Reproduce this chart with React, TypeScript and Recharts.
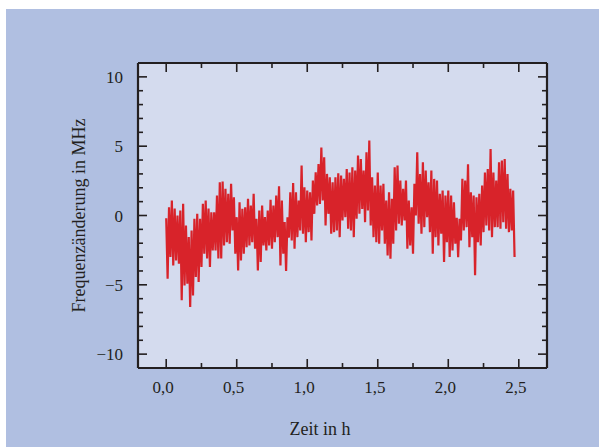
import { LineChart, Line, XAxis, YAxis, CartesianGrid } from "recharts";

// upper swing of the trace, read every 0.02 h starting at 0,0
const hiValues = [
  -0.2, 0.6, 1.08, 0.5, 0.0, 0.36, 0.84, -0.72, -1.56, -1.08, -0.24, 0.12, -0.24, 0.84, 1.08, 0.5,
  0.24, 0.24, 1.44, 2.4, 2.45, 1.92, 1.56, 2.28, 1.32, -0.12, 0.96, 0.48, 0.6, 1.2, 0.72,
  1.56, -0.24, 0.36, 0.72, -0.12, 0.36, 1.13, 0.72, 1.44, 2.1, 1.08, -0.48, -0.12, 1.68, 2.35, 1.68,
  1.08, 3.6, 2.04, 1.8, 1.68, 2.52, 3.12, 3.72, 4.9, 4.2, 3.0, 2.76, 2.4, 2.76, 3.05, 2.88,
  2.64, 3.36, 3.1, 3.48, 3.24, 4.32, 4.08, 3.24, 4.56, 5.4, 2.76, 2.16, 3.1, 2.16, 2.28, 1.08,
  1.68, 1.2, 3.48, 3.6, 2.52, 1.92, 2.52, 1.08, 0.6, 2.28, 4.56, 3.0, 3.84, 3.24, 2.4, 3.24,
  2.64, 2.52, 1.56, 1.8, 1.44, 1.8, 1.44, 0.96, -0.17, -0.24, 2.64, 2.52, 3.7, 1.68, 1.44, 1.32,
  1.56, 2.16, 3.1, 3.36, 4.8, 3.1, 2.52, 3.84, 3.96, 4.08, 3.0, 1.92, 1.8,
];

// lower swing of the trace, read every 0.02 h starting at 0,01
const loValues = [
  -4.56, -3.0, -3.6, -3.24, -3.48, -6.12, -5.04, -4.92, -6.6, -5.76, -4.44, -4.8, -3.72, -2.76, -3.1,
  -3.72, -2.52, -2.52, -3.1, -3.1, -2.16, -1.92, -2.04, -1.08, -2.76, -3.96, -3.24, -2.76, -2.28, -2.16,
  -1.92, -2.4, -3.96, -3.36, -2.16, -2.52, -2.16, -2.4, -1.92, -1.56, -3.6, -2.76, -4.0, -1.6, -1.8,
  -2.4, -1.56, -1.08, -1.32, -1.92, -1.2, -1.8, 0.12, 0.72, 0.84, 1.08, -0.72, 0.12, -1.32, -1.2,
  -1.08, -1.56, -0.36,
  -0.12, -0.96, -1.08, -1.56, -0.24, 0.12, 0.48, -0.48, 0.36, -0.72, -1.56, -1.92, -2.04, -1.08, -2.04,
  -2.88, -3.12, -2.04, -1.08, -0.6, -0.72, -0.36, -2.4, -2.16, -2.76, 0.0, -0.6, -1.32, -0.84, -0.12,
  -1.2,
  -2.76, -1.56, -2.16, -1.32, -3.36, -1.92, -3.0, -2.52, -2.04, -3.0, -1.8, -1.08, -0.84, -2.28, -1.56,
  -4.3, -1.92, -2.16, -1.2, -0.72, -1.08, -1.56, -0.84, -0.84, -0.96, -0.48, -0.96, -1.2, -1.08, -3.0,
];

const sampleStep = 0.02;
const xTicks = [0, 0.25, 0.5, 0.75, 1, 1.25, 1.5, 1.75, 2, 2.25, 2.5];
const yTicks = [-10, -9, -8, -7, -6, -5, -4, -3, -2, -1, 0, 1, 2, 3, 4, 5, 6, 7, 8, 9, 10];

const data = hiValues.flatMap((h, i) => [
  { t: i * sampleStep, v: h },
  { t: i * sampleStep + sampleStep / 2, v: loValues[i] },
]);

const INK = "#231f20";
const FONT = "'Liberation Serif', 'Times New Roman', serif";

const majorX = (v: number) => Math.abs(v * 2 - Math.round(v * 2)) < 1e-6;
const majorY = (v: number) => v % 5 === 0;
const fmtX = (v: number) => v.toFixed(1).replace(".", ",");
const fmtY = (v: number) => (v < 0 ? "\u2212" + Math.abs(v) : String(v));

function BottomTick({ x, y, payload }: any) {
  const major = majorX(payload.value);
  return (
    <g>
      <line x1={x} x2={x} y1={y} y2={y - (major ? 9 : 5)} stroke={INK} strokeWidth={1.6} />
      {major && (
        <text x={x - 3} y={y + 25} textAnchor="middle" fontFamily={FONT} fontSize={17} fill={INK}>
          {fmtX(payload.value)}
        </text>
      )}
    </g>
  );
}

function TopTick({ x, y, payload }: any) {
  const major = majorX(payload.value);
  return <line x1={x} x2={x} y1={y} y2={y + (major ? 9 : 5)} stroke={INK} strokeWidth={1.6} />;
}

function LeftTick({ x, y, payload }: any) {
  const major = majorY(payload.value);
  return (
    <g>
      <line x1={x} x2={x + (major ? 9 : 5)} y1={y} y2={y} stroke={INK} strokeWidth={1.6} />
      {major && (
        <text x={x - 15} y={y + 6} textAnchor="end" fontFamily={FONT} fontSize={17} fill={INK}>
          {fmtY(payload.value)}
        </text>
      )}
    </g>
  );
}

function RightTick({ x, y, payload }: any) {
  const major = majorY(payload.value);
  return <line x1={x} x2={x - (major ? 9 : 5)} y1={y} y2={y} stroke={INK} strokeWidth={1.6} />;
}

function YTitle(props: any) {
  const vb = props.viewBox ?? { x: 60, y: 54, width: 72, height: 305 };
  const cx = vb.x + 19;
  const cy = vb.y + vb.height / 2;
  return (
    <text
      x={cx}
      y={cy}
      transform={`rotate(-90 ${cx} ${cy})`}
      textAnchor="middle"
      fontFamily={FONT}
      fontSize={18}
      fill={INK}
    >
      Frequenzänderung in MHz
    </text>
  );
}

function XTitle(props: any) {
  const vb = props.viewBox ?? { x: 132, y: 359, width: 409, height: 40 };
  return (
    <text x={vb.x + 182} y={vb.y + 67} textAnchor="middle" fontFamily={FONT} fontSize={18} fill={INK}>
      Zeit in h
    </text>
  );
}

const axisLine = { stroke: INK, strokeWidth: 2.2 };

export default function App() {
  return (
    <div
      style={{
        position: "absolute",
        left: 6,
        top: 9,
        width: 593,
        height: 438,
        background: "#b0bfe1",
      }}
    >
      <LineChart width={593} height={438} data={data} margin={{ top: 44, right: 42, left: 60, bottom: 39 }}>
        <CartesianGrid
          xAxisId="bottom"
          yAxisId="left"
          horizontal={false}
          vertical={false}
          fill="#d4dbee"
          fillOpacity={1}
          stroke="none"
        />
        <XAxis
          xAxisId="bottom"
          dataKey="t"
          type="number"
          domain={[-0.2, 2.7]}
          ticks={xTicks}
          interval={0}
          height={40}
          tickSize={0}
          tickMargin={0}
          tickLine={false}
          axisLine={axisLine}
          tick={BottomTick}
          label={XTitle}
          allowDataOverflow
        />
        <XAxis
          xAxisId="top"
          orientation="top"
          dataKey="t"
          type="number"
          domain={[-0.2, 2.7]}
          ticks={xTicks}
          interval={0}
          height={10}
          tickSize={0}
          tickMargin={0}
          tickLine={false}
          axisLine={axisLine}
          tick={TopTick}
          allowDataOverflow
        />
        <YAxis
          yAxisId="left"
          type="number"
          domain={[-11, 11]}
          ticks={yTicks}
          interval={0}
          width={72}
          tickSize={0}
          tickMargin={0}
          tickLine={false}
          axisLine={axisLine}
          tick={LeftTick}
          label={YTitle}
          allowDataOverflow
        />
        <YAxis
          yAxisId="right"
          orientation="right"
          type="number"
          domain={[-11, 11]}
          ticks={yTicks}
          interval={0}
          width={10}
          tickSize={0}
          tickMargin={0}
          tickLine={false}
          axisLine={axisLine}
          tick={RightTick}
          allowDataOverflow
        />
        <Line
          xAxisId="bottom"
          yAxisId="left"
          dataKey="v"
          type="linear"
          stroke="#d8232a"
          strokeWidth={2.2}
          strokeLinejoin="miter"
          dot={false}
          isAnimationActive={false}
        />
      </LineChart>
    </div>
  );
}
